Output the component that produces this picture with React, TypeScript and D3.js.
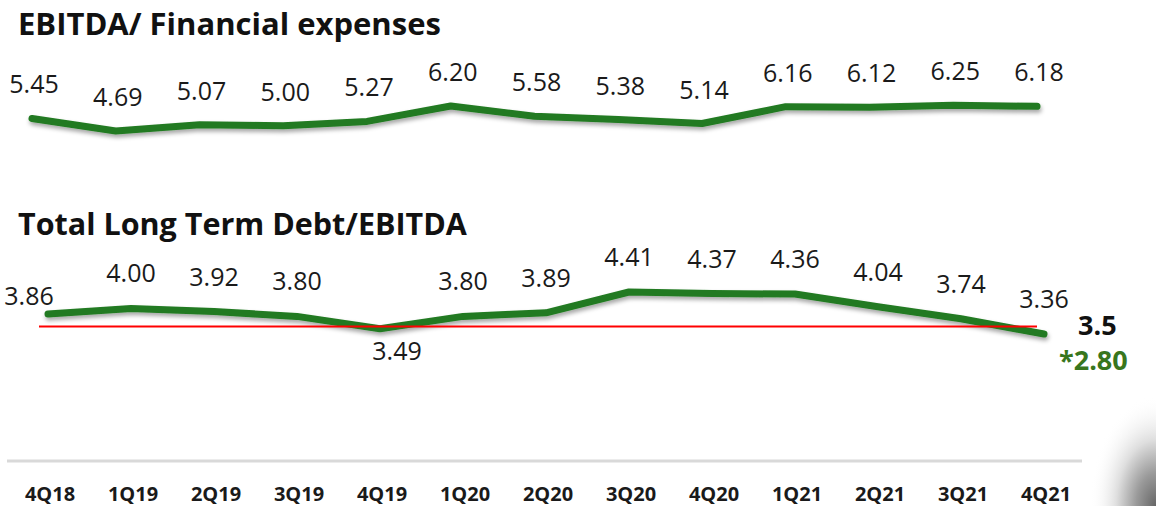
import React from 'react';
import * as d3 from 'd3';

const quarters = ['4Q18', '1Q19', '2Q19', '3Q19', '4Q19', '1Q20', '2Q20', '3Q20', '4Q20', '1Q21', '2Q21', '3Q21', '4Q21'];
const ebitdaFinExp = [5.45, 4.69, 5.07, 5.0, 5.27, 6.2, 5.58, 5.38, 5.14, 6.16, 6.12, 6.25, 6.18];
const debtEbitda = [3.86, 4.0, 3.92, 3.8, 3.49, 3.8, 3.89, 4.41, 4.37, 4.36, 4.04, 3.74, 3.36];
const covenantLimit = 3.5;
const adjustedLastLabel = '*2.80';
const titleTop = 'EBITDA/ Financial expenses';
const titleBottom = 'Total Long Term Debt/EBITDA';

const W = 1156;
const H = 506;
const FONT = "'Open Sans', 'Noto Sans', sans-serif";
const GREEN = '#217a21';

export default function App() {
  const xTop = d3.scalePoint<string>().domain(quarters).range([32, 1037]);
  const yTop = d3.scaleLinear().domain([4.69, 6.2]).range([131, 106]);
  const xBot = d3.scalePoint<string>().domain(quarters).range([48, 1044]);
  const yBot = d3.scaleLinear().domain([3.36, 4.41]).range([334, 292]);

  const lineTop = d3
    .line<number>()
    .x((_, i) => xTop(quarters[i]) as number)
    .y((d) => yTop(d));
  const lineBot = d3
    .line<number>()
    .x((_, i) => xBot(quarters[i]) as number)
    .y((d) => yBot(d));

  const lastX = xBot(quarters[quarters.length - 1]) as number;
  const lastY = yBot(debtEbitda[debtEbitda.length - 1]);
  const limitY = yBot(covenantLimit) - 2;

  const isLocalMin = (i: number) =>
    i > 0 && i < debtEbitda.length - 1 && debtEbitda[i] < debtEbitda[i - 1] && debtEbitda[i] < debtEbitda[i + 1];

  return (
    <div style={{ position: 'absolute', left: 0, top: 0 }}>
      <svg width={W} height={H} style={{ display: 'block', background: '#fff' }}>
        <defs>
          <filter id="shadow" x="-5%" y="-50%" width="110%" height="200%">
            <feDropShadow dx="1" dy="3" stdDeviation="2" floodColor="#000" floodOpacity="0.35" />
          </filter>
          <radialGradient id="curl" cx="1" cy="1" r="1">
            <stop offset="0" stopColor="#666" />
            <stop offset="0.3" stopColor="#9a9a9a" />
            <stop offset="0.6" stopColor="#dedede" />
            <stop offset="1" stopColor="#ffffff" stopOpacity="0" />
          </radialGradient>
        </defs>
        <rect x={0} y={0} width={W} height={H} fill="#fff" />
        <rect x={1090} y={396} width={66} height={110} fill="url(#curl)" />

        {/* Top chart */}
        <text x={18} y={23} fontFamily={FONT} fontWeight={700} fontSize={31} fill="#111" dominantBaseline="central">
          {titleTop}
        </text>
        <path
          d={lineTop(ebitdaFinExp) || ''}
          fill="none"
          stroke={GREEN}
          strokeWidth={7}
          strokeLinecap="round"
          strokeLinejoin="round"
          filter="url(#shadow)"
        />
        {ebitdaFinExp.map((v, i) => (
          <text
            key={'t' + i}
            x={(xTop(quarters[i]) as number) + 2}
            y={yTop(v) - 35}
            textAnchor="middle"
            dominantBaseline="central"
            fontFamily={FONT}
            fontSize={25}
            fill="#1a1a1a"
          >
            {v.toFixed(2)}
          </text>
        ))}

        {/* Bottom chart */}
        <text x={18} y={223} fontFamily={FONT} fontWeight={700} fontSize={30.5} fill="#111" dominantBaseline="central">
          {titleBottom}
        </text>
        <path
          d={lineBot(debtEbitda) || ''}
          fill="none"
          stroke={GREEN}
          strokeWidth={7}
          strokeLinecap="round"
          strokeLinejoin="round"
          filter="url(#shadow)"
        />
        <line
          x1={(xBot(quarters[0]) as number) - 9}
          x2={lastX - 7}
          y1={limitY}
          y2={limitY}
          stroke="#ff0000"
          strokeWidth={2}
        />
        {debtEbitda.map((v, i) => {
          const px = xBot(quarters[i]) as number;
          const py = yBot(v);
          let x = px;
          let y = py - 36;
          if (i === 0) {
            x = px - 19;
            y = py - 19;
          } else if (isLocalMin(i) && v < covenantLimit) {
            x = px + 17;
            y = py + 21;
          }
          return (
            <text
              key={'b' + i}
              x={x}
              y={y}
              textAnchor="middle"
              dominantBaseline="central"
              fontFamily={FONT}
              fontSize={25}
              fill="#1a1a1a"
            >
              {v.toFixed(2)}
            </text>
          );
        })}
        <text
          x={lastX + 34}
          y={limitY - 2}
          dominantBaseline="central"
          fontFamily={FONT}
          fontWeight={700}
          fontSize={27}
          fill="#111"
        >
          {String(covenantLimit)}
        </text>
        <text
          x={lastX + 15}
          y={lastY + 25}
          dominantBaseline="central"
          fontFamily={FONT}
          fontWeight={700}
          fontSize={27}
          fill="#38761d"
        >
          {adjustedLastLabel}
        </text>

        {/* Category axis */}
        <line x1={7} x2={1082} y1={461} y2={461} stroke="#d9d9d9" strokeWidth={3} />
        {quarters.map((q) => (
          <text
            key={q}
            x={(xBot(q) as number) + 2}
            y={493}
            textAnchor="middle"
            dominantBaseline="central"
            fontFamily={FONT}
            fontWeight={700}
            fontSize={20}
            fill="#1a1a1a"
          >
            {q}
          </text>
        ))}
      </svg>
    </div>
  );
}
